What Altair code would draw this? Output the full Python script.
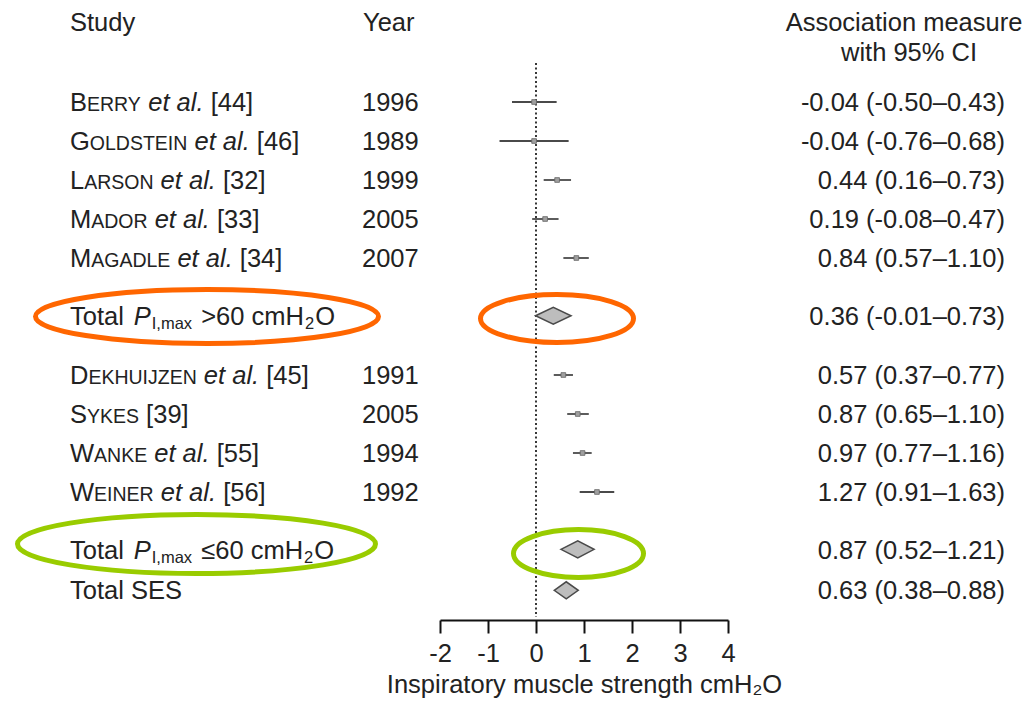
import altair as alt
import pandas as pd

# ---------------- data ----------------
names = ["Berry", "Goldstein", "Larson", "Mador", "Magadle",
         "Dekhuijzen", "Sykes", "Wanke", "Weiner"]
refs = [44, 46, 32, 33, 34, 45, 39, 55, 56]
has_et_al = [True, True, True, True, True, True, False, True, True]
years = [1996, 1989, 1999, 2005, 2007, 1991, 2005, 1994, 1992]
est = [-0.04, -0.04, 0.44, 0.19, 0.84, 0.57, 0.87, 0.97, 1.27]
lo = [-0.50, -0.76, 0.16, -0.08, 0.57, 0.37, 0.65, 0.77, 0.91]
hi = [0.43, 0.68, 0.73, 0.47, 1.10, 0.77, 1.10, 1.16, 1.63]

total_keys = ["gt60", "le60", "ses"]
total_est = [0.36, 0.87, 0.63]
total_lo = [-0.01, 0.52, 0.38]
total_hi = [0.73, 1.21, 0.88]

x_ticks = [-2, -1, 0, 1, 2, 3, 4]
x_title = "Inspiratory muscle strength cmH\u2082O"

# ---------------- layout ----------------
study_rows = [0, 1, 2, 3, 4, 7, 8, 9, 10]
total_rows = [5.48, 11.47, 12.52]
HEAD_ROW, HEAD2_ROW = -2.05, -1.28
W, H = 1015, 612
X_STUDY, X_YEAR, X_VAL, X_HEAD = 62, 354, 997, 896
FS, SC, SUB = 25.5, 19.5, 16.5
FONT = "Liberation Sans"
INK = "#222222"
ROW_PX = 39.0
DIAMOND_HALF = 8.5 / ROW_PX

# Arial / Liberation Sans advance widths (em/1000)
AW = {c: 556 for c in "0123456789"}
AW.update({"A": 667, "B": 667, "C": 722, "D": 722, "E": 667, "F": 611, "G": 778,
           "H": 722, "I": 278, "J": 500, "K": 667, "L": 556, "M": 833, "N": 722,
           "O": 778, "P": 667, "Q": 778, "R": 722, "S": 667, "T": 611, "U": 722,
           "V": 667, "W": 944, "X": 667, "Y": 667, "Z": 611,
           "a": 556, "b": 556, "c": 500, "d": 556, "e": 556, "f": 278, "g": 556,
           "h": 556, "i": 222, "j": 222, "k": 500, "l": 222, "m": 833, "n": 556,
           "o": 556, "p": 556, "q": 556, "r": 333, "s": 500, "t": 278, "u": 556,
           "v": 500, "w": 722, "x": 500, "y": 500, "z": 500,
           " ": 278, ".": 278, ",": 278, "[": 278, "]": 278, "(": 333, ")": 333,
           "-": 333, ">": 584, "\u2264": 549})


def tw(s, fs):
    return sum(AW.get(c, 556) for c in s) * fs / 1000.0


segs = []


def add(kind, text, px, row, align="left"):
    segs.append({"kind": kind, "text": text, "px": px, "row": row, "align": align})


# headers
add("reg", "Study", X_STUDY, HEAD_ROW)
add("reg", "Year", X_YEAR + 1, HEAD_ROW)
add("reg", "Association measure", X_HEAD, HEAD_ROW, "center")
add("reg", "with 95% CI", X_HEAD + 5, HEAD2_ROW, "center")

# study rows
for n, r, e, y, m, l, h, row in zip(names, refs, has_et_al, years, est, lo, hi, study_rows):
    x = X_STUDY
    add("reg", n[0], x, row)
    x += tw(n[0], FS)
    tail = n[1:].upper()
    add("sc", tail, x, row)
    x += tw(tail, SC) + tw(" ", FS)
    if e:
        add("it", "et al.", x, row)
        x += tw("et al. ", FS)
    add("reg", f"[{r}]", x, row)
    add("reg", str(y), X_YEAR, row)
    add("reg", f"{m:.2f} ({l:.2f}\u2013{h:.2f})", X_VAL, row, "right")

# total rows
for key, m, l, h, row in zip(total_keys, total_est, total_lo, total_hi, total_rows):
    x = X_STUDY
    if key == "ses":
        add("reg", "Total SES", x, row)
    else:
        add("reg", "Total", x, row)
        x += tw("Total ", FS)
        add("it", "P", x, row)
        x += tw("P", FS) + 1
        add("sub", "I,max", x, row)
        x += tw("I,max", SUB) + tw(" ", FS) + 2
        cmp_txt = ">60" if key == "gt60" else "\u226460"
        add("reg", cmp_txt + " cmH", x, row)
        x += tw(cmp_txt + " cmH", FS) + 1
        add("sub", "2", x, row)
        x += tw("2", SUB) + 1
        add("reg", "O", x, row)
    add("reg", f"{m:.2f} ({l:.2f}\u2013{h:.2f})", X_VAL, row, "right")

seg_df = pd.DataFrame(segs)

studies_df = pd.DataFrame({"name": names, "est": est, "lo": lo, "hi": hi, "row": study_rows})

dia = []
for key, m, l, h, row in zip(total_keys, total_est, total_lo, total_hi, total_rows):
    dia.append({"g": key, "x": l, "y": row, "y2": row})
    dia.append({"g": key, "x": m, "y": row - DIAMOND_HALF, "y2": row + DIAMOND_HALF})
    dia.append({"g": key, "x": h, "y": row, "y2": row})
dia_df = pd.DataFrame(dia)

# ---------------- scales ----------------
xscale = alt.Scale(domain=[-2, 4], range=[432, 720], nice=False, zero=False)
yscale = alt.Scale(domain=[-2, 13], range=[94 - 2 * ROW_PX, 94 + 13 * ROW_PX],
                   nice=False, zero=False)

xaxis = alt.Axis(values=x_ticks, title=x_title, grid=False, tickSize=13, tickWidth=2,
                 tickColor="#111", domainColor="#111", domainWidth=2,
                 labelFont=FONT, labelFontSize=FS, labelColor=INK, labelPadding=8,
                 labelExpr="'' + datum.value",
                 titleFont=FONT, titleFontSize=FS, titleColor=INK, titleFontWeight="normal",
                 titlePadding=6, labelFlush=False)

zero_rule = alt.Chart(pd.DataFrame({"x": [0], "y": [-1.0]})).mark_rule(
    color="#222", strokeWidth=1.8, strokeDash=[2, 2.5]
).encode(
    x=alt.X("x:Q", scale=xscale, axis=xaxis),
    y=alt.Y("y:Q", scale=yscale, axis=None),
    y2=alt.value(H - 3),
)

ci = alt.Chart(studies_df).mark_rule(color="#4a4a4a", strokeWidth=1.8).encode(
    x=alt.X("lo:Q", scale=xscale, axis=xaxis),
    x2="hi:Q",
    y=alt.Y("row:Q", scale=yscale, axis=None),
)

pts = alt.Chart(studies_df).mark_square(size=22, color="#a0a0a0", stroke="#666",
                                        strokeWidth=0.8, opacity=1).encode(
    x=alt.X("est:Q", scale=xscale, axis=xaxis),
    y=alt.Y("row:Q", scale=yscale, axis=None),
)

diamonds = alt.Chart(dia_df).mark_area(orient="vertical", color="#bdbdbd",
                                       stroke="#4a4a4a", strokeWidth=1.5,
                                       opacity=1).encode(
    x=alt.X("x:Q", scale=xscale, axis=xaxis),
    y=alt.Y("y:Q", scale=yscale, axis=None),
    y2="y2:Q",
    detail="g:N",
)

forest = alt.layer(zero_rule, ci, pts, diamonds)


def text_layer(kind, align, size, style="normal", dy=0.0):
    sub = seg_df[(seg_df["kind"] == kind) & (seg_df["align"] == align)]
    return alt.Chart(sub).mark_text(
        align=align, baseline="alphabetic", font=FONT, fontSize=size,
        fontStyle=style, color=INK, dy=0.36 * FS + dy
    ).encode(
        x=alt.X("px:Q", scale=None, axis=None),
        y=alt.Y("row:Q", scale=yscale, axis=None),
        text="text:N",
    )


texts = alt.layer(
    text_layer("reg", "left", FS),
    text_layer("reg", "right", FS),
    text_layer("reg", "center", FS),
    text_layer("sc", "left", SC),
    text_layer("it", "left", FS, "italic"),
    text_layer("sub", "left", SUB, dy=4),
)


def ellipse(cx, cy, w, h, color):
    k = 0.5523
    r = (h - 5) / (w - 5)
    path = (f"M-1,0C-1,{-k*r:.4f} {-k},{-r:.4f} 0,{-r:.4f}"
            f"C{k},{-r:.4f} 1,{-k*r:.4f} 1,0"
            f"C1,{k*r:.4f} {k},{r:.4f} 0,{r:.4f}"
            f"C{-k},{r:.4f} -1,{k*r:.4f} -1,0Z")
    return alt.Chart(pd.DataFrame({"a": [0]})).mark_point(
        shape=path, size=(w - 5) ** 2, filled=False, color=color,
        strokeWidth=5, opacity=1
    ).encode(x=alt.value(cx), y=alt.value(cy))


ORANGE, GREEN = "#FF6600", "#99CC00"
ellipses = alt.layer(
    ellipse(199, 308.5, 348, 59, ORANGE),
    ellipse(549, 310.5, 158, 53, ORANGE),
    ellipse(188.5, 536, 363, 64, GREEN),
    ellipse(570.5, 545.5, 135, 53, GREEN),
)

chart = alt.layer(forest, texts, ellipses).resolve_scale(x="independent").properties(
    width=W, height=H,
    padding={"left": 0, "top": 0, "right": 0, "bottom": 78},
    autosize=alt.AutoSizeParams(type="none"),
    background="white",
).configure_view(stroke=None)

chart.save("out.html", embed_options={"renderer": "svg", "actions": False})
